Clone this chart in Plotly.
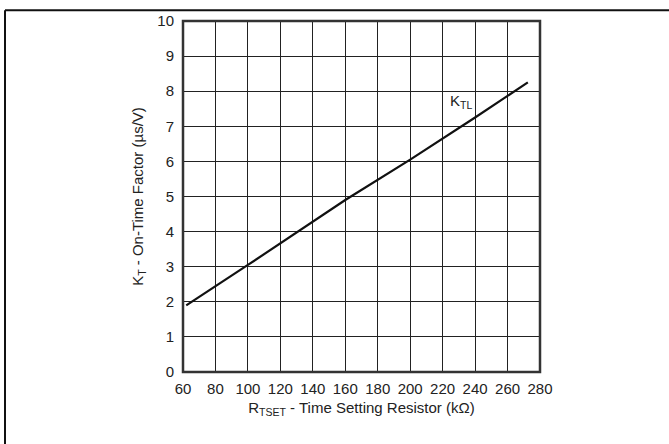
import plotly.graph_objects as go

# Data
r_tset = [62, 100, 160, 200, 240, 272.5]
k_tl = [1.9, 3.05, 4.9, 6.05, 7.25, 8.25]
x_ticks = [60, 80, 100, 120, 140, 160, 180, 200, 220, 240, 260, 280]
y_ticks = [0, 1, 2, 3, 4, 5, 6, 7, 8, 9, 10]
series_label = "K<sub>TL</sub>"
label_pos = (223, 7.72)

W, H = 669, 444
L, R, T, B = 183, 129, 16, 72
pw, ph = W - L - R, H - T - B

def px_to_paper_x(px):
    return (px - L) / pw

def px_to_paper_y(py):
    return (H - B - py) / ph

font = dict(family="Liberation Sans, Arial, sans-serif", size=15, color="#222")

fig = go.Figure()
fig.add_trace(go.Scatter(x=r_tset, y=k_tl, mode="lines",
                         line=dict(color="#111", width=2.2), showlegend=False,
                         hoverinfo="skip"))

fig.add_annotation(x=label_pos[0], y=label_pos[1], text=series_label, showarrow=False,
                   xanchor="left", yanchor="middle", font=font)

grid = dict(showgrid=True, gridcolor="#222", gridwidth=1, zeroline=False,
            showline=False, ticks="", tickfont=font)
fig.update_xaxes(range=[60, 280], tickvals=x_ticks, ticklabelstandoff=6,
                 title=dict(text="R<sub>TSET</sub> - Time Setting Resistor (kΩ)", font=font, standoff=6),
                 **grid)
fig.update_yaxes(range=[0, 10], tickvals=y_ticks, ticklabelstandoff=8,
                 title=dict(text="K<sub>T</sub> - On-Time Factor (µs/V)", font=font, standoff=10),
                 **grid)

shapes = [
    dict(type="rect", xref="paper", yref="paper", x0=0, x1=1, y0=0, y1=1,
         line=dict(color="#333", width=2.5)),
    dict(type="line", xref="paper", yref="paper",
         x0=px_to_paper_x(5), x1=px_to_paper_x(W + 2), y0=px_to_paper_y(5), y1=px_to_paper_y(5),
         line=dict(color="#111", width=2)),
    dict(type="line", xref="paper", yref="paper",
         x0=px_to_paper_x(5), x1=px_to_paper_x(5), y0=px_to_paper_y(5), y1=px_to_paper_y(H + 2),
         line=dict(color="#111", width=2)),
]
fig.update_layout(width=W, height=H, margin=dict(l=L, r=R, t=T, b=B),
                  plot_bgcolor="white", paper_bgcolor="white", shapes=shapes,
                  font=font)

fig.write_html("out.html")
